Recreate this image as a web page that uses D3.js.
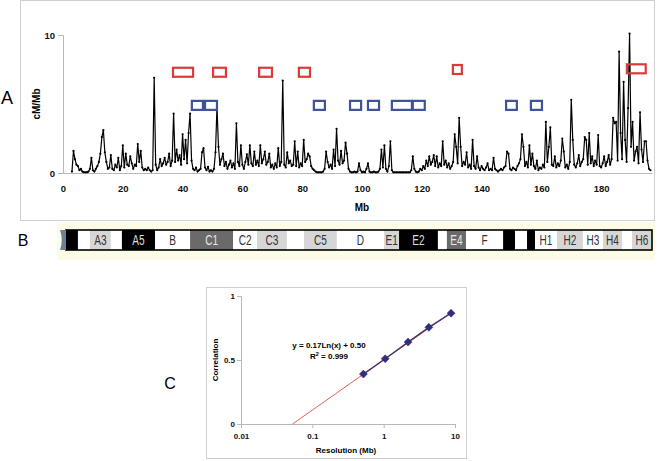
<!DOCTYPE html>
<html><head><meta charset="utf-8">
<script src="https://cdn.jsdelivr.net/npm/d3@7/dist/d3.min.js"></script>
<style>
body{margin:0;background:#fff;}
svg{display:block;}
text{font-family:"Liberation Sans",Arial,Helvetica,sans-serif;}
</style>
</head><body>
<svg id="c" width="661" height="461"></svg>
<script>
// ---------- Panel A data ----------
const mbStart = 3.0, mbStep = 0.5;
const recombRate = [
 0.1,1.6,1.0,0.6,0.5,0.2,0.3,0.1,0.05,0.05,
 0.05,0.1,0.3,1.1,0.2,0.1,0.3,0.5,0.8,1.4,
 2.6,3.1,1.5,0.8,0.3,0.4,1.3,0.3,0.2,0.6,
 0.4,1.1,0.2,0.5,2.0,0.4,1.4,0.6,0.5,1.2,
 0.7,0.3,0.6,0.5,2.1,0.8,1.6,0.4,0.2,0.3,
 0.2,0.4,0.2,0.1,0.2,6.9,0.6,0.2,0.4,1.0,
 0.5,0.7,1.1,0.6,0.8,1.4,0.5,0.9,4.3,0.8,
 1.7,0.9,1.3,0.6,2.8,1.0,2.4,0.7,2.9,4.3,
 0.9,0.3,0.2,0.4,0.1,0.2,0.3,1.5,1.8,0.4,
 0.2,0.45,0.1,0.2,0.1,0.3,1.5,4.8,1.9,0.6,
 1.0,1.4,0.5,0.8,0.3,0.6,0.9,0.4,0.7,0.3,
 3.6,0.8,0.5,2.0,0.6,0.3,0.8,1.35,0.6,2.0,
 0.7,0.5,1.55,0.6,0.9,0.5,2.0,0.7,1.0,1.55,
 0.6,0.8,1.4,0.4,0.6,0.3,0.7,0.4,1.8,0.5,
 0.8,6.7,0.6,0.4,1.5,0.7,0.9,0.5,0.6,2.3,
 0.5,1.55,0.4,0.7,0.5,2.4,0.8,1.0,1.4,1.2,
 0.5,0.3,0.2,0.1,0.05,0.05,0.05,0.05,0.1,0.3,
 1.55,0.8,0.4,0.6,0.3,1.7,0.5,3.2,0.9,0.6,
 1.6,0.7,0.9,2.2,1.4,0.3,0.1,0.05,0.05,0.1,
 0.05,0.1,0.7,0.2,0.05,0.1,0.05,0.3,0.7,0.1,
 0.05,0.05,0.1,0.05,0.05,0.1,0.3,1.7,0.4,2.0,
 0.3,0.1,0.5,2.3,0.2,0.05,0.05,0.05,0.05,0.05,
 0.05,0.05,0.05,0.05,0.05,0.05,0.05,0.2,1.2,0.3,
 0.1,0.05,0.1,0.3,0.2,0.5,0.3,0.9,0.5,1.2,
 0.6,0.8,1.3,0.5,1.2,0.4,0.7,0.5,2.3,0.6,
 0.9,0.4,0.7,0.3,0.5,0.8,2.8,1.9,0.7,4.0,
 1.9,0.5,0.8,0.6,1.5,0.4,0.6,0.3,2.4,0.5,
 0.3,1.2,0.4,0.2,0.5,0.3,0.2,0.4,0.7,0.2,
 0.3,0.2,1.1,0.3,0.2,0.1,0.2,0.3,0.2,0.4,
 0.5,1.55,1.4,0.3,0.2,0.4,0.3,0.2,0.5,0.7,
 1.0,2.8,1.9,0.5,0.8,0.4,2.0,0.6,1.4,0.5,
 0.3,0.9,0.2,0.4,0.3,0.6,0.4,3.7,0.8,1.9,
 3.3,0.6,0.5,1.2,0.4,0.7,0.5,0.9,2.5,1.55,
 0.4,0.6,0.3,0.8,5.3,2.4,0.6,0.4,0.7,1.3,
 0.5,0.8,1.0,2.6,2.4,0.6,2.9,0.7,1.2,0.5,
 0.9,0.6,2.75,0.5,0.4,0.7,1.2,0.5,0.8,1.3,
 0.6,1.0,4.0,3.6,3.7,0.9,8.8,2.9,1.0,6.6,
 2.4,0.8,4.7,10.1,1.9,3.7,0.9,1.55,1.9,0.7,
 4.4,1.7,0.8,2.3,2.3,0.9,0.3,0.2
];
const yTicksA = [0, 10];
const xTicksA = [0,20,40,60,80,100,120,140,160,180];
// hot-spot boxes: [startMb, endMb, level (cM/Mb)]
const redRegions = [[36.8,43.5,7.3],[50.2,54.5,7.3],[65.6,69.9,7.3],[78.9,82.6,7.3],[130.4,133.4,7.5],[188.6,194.9,7.55]];
const blueRegions = [[43.1,46.8,4.9],[47.5,51.5,4.9],[83.9,87.6,4.9],[96.0,99.7,4.9],[102.0,105.7,4.9],[110.0,116.7,4.9],[117.0,121.0,4.9],[148.2,151.8,4.9],[156.5,160.2,4.9]];

// ---------- Panel B data (cytobands, Mb) ----------
const bandNames  = ["","","A3","","A5","B","C1","C2","C3","","C5","D","E1","E2","","E4","F","","","","H1","H2","H3","H4","","H6"];
const bandStarts = [1,5,9,16,19.7,30.8,42.5,56.9,64.9,74.9,80.6,91.6,107.4,112.4,125.4,128.4,134.8,147.2,151.2,155.2,157.9,165.2,173.9,180.6,187,190.3];
const bandEnds   = [5,9,16,19.7,30.8,42.5,56.9,64.9,74.9,80.6,91.6,107.4,112.4,125.4,128.4,134.8,147.2,151.2,155.2,157.9,165.2,173.9,180.6,187,190.3,197];
const bandStains = ["gpos100","gneg","gpos25","gneg","gpos100","gneg","gpos75","gneg","gpos25","gneg","gpos25","gneg","gpos25","gpos100","gneg","gpos75","gneg","gpos100","gneg","gpos100","gneg","gpos25","gneg","gpos25","gneg","gpos25"];
const centromereMb = [-1, 1];

// ---------- Panel C data ----------
const resolutionMb = [0.52, 1.05, 2.2, 4.3, 8.8];
const correlation  = [0.39, 0.51, 0.64, 0.755, 0.866];
const trendA = 0.17, trendB = 0.50;
const xTicksC = [0.01, 0.1, 1, 10];
const yTicksC = [0, 0.5, 1];

// ---------- drawing ----------
const svg = d3.select("#c");
const gray = "#b8b8b8";

// Panel A frame
svg.append("rect").attr("x",20.5).attr("y",0.5).attr("width",634).attr("height",220)
  .attr("fill","#fff").attr("stroke","#cfcfcf");

const xA = d3.scaleLinear().domain([0,197]).range([63,652]);
const yA = d3.scaleLinear().domain([0,10]).range([173,35]);

const gA = svg.append("g");
const yAxA = gA.append("g").attr("transform","translate(63,0)")
  .call(d3.axisLeft(yA).tickValues(yTicksA).tickSize(5).tickPadding(3).tickFormat(d3.format("d")));
yAxA.select(".domain").attr("stroke",gray);
yAxA.selectAll(".tick line").attr("stroke",gray);
yAxA.selectAll("text").attr("font-size",9.5).attr("font-weight","bold").attr("fill","#111");
const xAxA = gA.append("g").attr("transform","translate(0,173)")
  .call(d3.axisBottom(xA).tickValues(xTicksA).tickSize(0).tickPadding(12).tickFormat(d3.format("d")));
xAxA.select(".domain").attr("stroke",gray);
xAxA.selectAll("text").attr("font-size",9.5).attr("font-weight","bold").attr("fill","#111");

const seriesA = recombRate.map((v,i)=>({mb: mbStart + i*mbStep, v}));
gA.append("path").datum(seriesA)
  .attr("d", d3.line().x(d=>xA(d.mb)).y(d=>yA(d.v)))
  .attr("fill","none").attr("stroke","#000").attr("stroke-width",1.2).attr("stroke-linejoin","round");
gA.append("g").selectAll("circle").data(seriesA).join("circle")
  .attr("cx",d=>xA(d.mb)).attr("cy",d=>yA(d.v)).attr("r",1.1).attr("fill","#000");

function boxes(data, color){
  gA.append("g").selectAll("rect").data(data).join("rect")
    .attr("x",d=>xA(d[0])).attr("width",d=>xA(d[1])-xA(d[0]))
    .attr("y",d=>yA(d[2])-4.5).attr("height",9)
    .attr("fill","none").attr("stroke",color).attr("stroke-width",2.2);
}
boxes(redRegions,"#d93a3a");
boxes(blueRegions,"#3d5298");

gA.append("text").attr("transform","translate(40,104) rotate(-90)").attr("text-anchor","middle")
  .attr("font-size",10).attr("font-weight","bold").text("cM/Mb");
gA.append("text").attr("x",362).attr("y",211).attr("text-anchor","middle")
  .attr("font-size",10).attr("font-weight","bold").text("Mb");
svg.append("text").attr("x",7).attr("y",104).attr("text-anchor","middle").attr("font-size",18).text("A");

// Panel B
svg.append("rect").attr("x",57).attr("y",222).attr("width",598).attr("height",38).attr("fill","#fcfbe6");
svg.append("text").attr("x",23).attr("y",246).attr("text-anchor","middle").attr("font-size",16).text("B");
const stainFill = {gneg:"#ffffff", gpos25:"#d6d6d6", gpos75:"#6a6a6a", gpos100:"#000000"};
const stainText = {gneg:"#333", gpos25:"#333", gpos75:"#e8e8e8", gpos100:"#dcdcdc"};
const bands = bandNames.map((n,i)=>({name:n, s:bandStarts[i], e:bandEnds[i], stain:bandStains[i]}));
const gB = svg.append("g");
const barTop = 230, barH = 20;
gB.selectAll("rect.band").data(bands).join("rect").attr("class","band")
  .attr("x",d=>xA(d.s)).attr("width",d=>xA(d.e)-xA(d.s))
  .attr("y",barTop).attr("height",barH).attr("fill",d=>stainFill[d.stain]);
gB.append("rect").attr("x",xA(bandStarts[0])).attr("y",barTop)
  .attr("width",xA(bandEnds[bandEnds.length-1])-xA(bandStarts[0])).attr("height",barH)
  .attr("fill","none").attr("stroke","#000").attr("stroke-width",1.6);
gB.selectAll("text").data(bands.filter(d=>d.name)).join("text")
  .attr("transform",d=>`translate(${(xA(d.s)+xA(d.e))/2},${barTop+barH/2+5}) scale(0.72,1)`)
  .attr("text-anchor","middle").attr("font-size",14)
  .attr("fill",d=>stainText[d.stain]).text(d=>d.name);
const c0 = xA(centromereMb[0]), c1 = xA(centromereMb[1]);
gB.append("path")
  .attr("d",`M${c0},${barTop} L${c1},${barTop} L${c1},${barTop+barH} L${c0},${barTop+barH} Q${c0+3.5},${barTop+barH/2} ${c0},${barTop} Z`)
  .attr("fill","#6d8199");

// Panel C
svg.append("rect").attr("x",206.5).attr("y",287.5).attr("width",260).attr("height",171)
  .attr("fill","#fff").attr("stroke","#cfcfcf");
svg.append("text").attr("x",170).attr("y",389).attr("text-anchor","middle").attr("font-size",16).text("C");
const xC = d3.scaleLog().domain([0.01,10]).range([241,455]);
const yC = d3.scaleLinear().domain([0,1]).range([424,296]);
const gC = svg.append("g");
const yAxC = gC.append("g").attr("transform","translate(241,0)")
  .call(d3.axisLeft(yC).tickValues(yTicksC).tickSize(4).tickPadding(2).tickFormat(d=>String(d)));
yAxC.select(".domain").attr("stroke",gray);
yAxC.selectAll(".tick line").attr("stroke",gray);
yAxC.selectAll("text").attr("font-size",8).attr("font-weight","bold").attr("fill","#111");
const xAxC = gC.append("g").attr("transform","translate(0,424)")
  .call(d3.axisBottom(xC).tickValues(xTicksC).tickSize(4).tickPadding(5).tickFormat(d=>String(d)));
xAxC.select(".domain").attr("stroke",gray);
xAxC.selectAll(".tick line").attr("stroke",gray);
xAxC.selectAll("text").attr("font-size",8).attr("font-weight","bold").attr("fill","#111");

const xZero = Math.exp(-trendB/trendA);
const trendPts = d3.range(0,61).map(i=>{
  const lx = Math.log10(xZero) + (Math.log10(resolutionMb[resolutionMb.length-1]) - Math.log10(xZero))*i/60;
  const x = Math.pow(10,lx);
  return [xC(x), yC(trendA*Math.log(x)+trendB)];
});
gC.append("path").attr("d",d3.line()(trendPts)).attr("fill","none").attr("stroke","#e0584e").attr("stroke-width",1);
const ptsC = resolutionMb.map((r,i)=>({r, c:correlation[i]}));
gC.append("path").datum(ptsC).attr("d",d3.line().x(d=>xC(d.r)).y(d=>yC(d.c)))
  .attr("fill","none").attr("stroke","#4a2f6a").attr("stroke-width",1.4);
gC.selectAll("path.pt").data(ptsC).join("path").attr("class","pt")
  .attr("d","M0,-4L4,0L0,4L-4,0Z")
  .attr("transform",d=>`translate(${xC(d.r)},${yC(d.c)})`)
  .attr("fill","#2f2f7a").attr("stroke","#2f2f7a").attr("stroke-width",0.5);

gC.append("text").attr("x",329).attr("y",348).attr("text-anchor","middle").attr("font-size",8)
  .attr("font-weight","bold").text("y = 0.17Ln(x) + 0.50");
const r2 = gC.append("text").attr("x",329).attr("y",359).attr("text-anchor","middle").attr("font-size",8).attr("font-weight","bold");
r2.append("tspan").text("R");
r2.append("tspan").attr("font-size",5.5).attr("dy",-3).text("2");
r2.append("tspan").attr("dy",3).text(" = 0.999");
gC.append("text").attr("transform","translate(218,360) rotate(-90)").attr("text-anchor","middle")
  .attr("font-size",8).attr("font-weight","bold").text("Correlation");
gC.append("text").attr("x",346).attr("y",453).attr("text-anchor","middle")
  .attr("font-size",8).attr("font-weight","bold").text("Resolution (Mb)");
</script>
</body></html>
